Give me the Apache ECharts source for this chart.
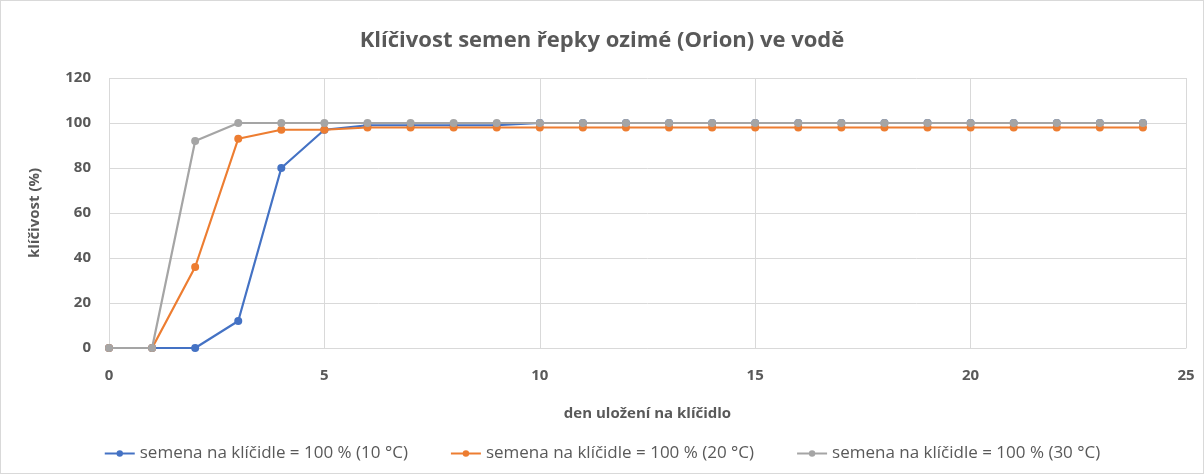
<!DOCTYPE html>
<html><head><meta charset="utf-8">
<script src="https://cdn.jsdelivr.net/npm/echarts@6/dist/echarts.min.js"></script>
<style>
html,body{margin:0;padding:0;background:#fff;}
#c{width:1204px;height:474px;box-sizing:border-box;border:1px solid #d9d9d9;}
</style></head><body>
<div id="c"></div>
<script>
const days = [0,1,2,3,4,5,6,7,8,9,10,11,12,13,14,15,16,17,18,19,20,21,22,23,24];
const s10 = [0,0,0,12,80,97,99,99,99,99,100,100,100,100,100,100,100,100,100,100,100,100,100,100,100];
const s20 = [0,0,36,93,97,97,98,98,98,98,98,98,98,98,98,98,98,98,98,98,98,98,98,98,98];
const s30 = [0,0,92,100,100,100,100,100,100,100,100,100,100,100,100,100,100,100,100,100,100,100,100,100,100];
const names = ['semena na klíčidle = 100 % (10 °C)','semena na klíčidle = 100 % (20 °C)','semena na klíčidle = 100 % (30 °C)'];
const colors = ['#4472C4','#ED7D31','#A5A5A5'];
const title = 'Klíčivost semen řepky ozimé (Orion) ve vodě';
const xName = 'den uložení na klíčidlo';
const yName = 'klíčivost (%)';

const chart = echarts.init(document.getElementById('c'), null, {renderer:'canvas'});
const font = '"Open Sans", Arial, sans-serif';
function mk(i, vals){
  return {name:names[i], type:'line', data:days.map((d,k)=>[d,vals[k]]),
    symbol:'circle', symbolSize:8, showSymbol:true,
    lineStyle:{width:2.2,color:colors[i]}, itemStyle:{color:colors[i]}, z:2+i};
}
chart.setOption({
  animation:false,
  color:colors,
  title:{text:title,left:'center',top:24,textStyle:{fontFamily:font,fontSize:22,fontWeight:'bold',color:'#595959'}},
  grid:{left:108,right:17,top:77,bottom:125,containLabel:false},
  xAxis:{type:'value',min:0,max:25,interval:5,
    name:xName,nameLocation:'middle',nameGap:58,
    nameTextStyle:{fontFamily:font,fontSize:15,fontWeight:'bold',color:'#595959'},
    axisLine:{show:true,lineStyle:{color:'#d9d9d9'}},axisTick:{show:false},
    axisLabel:{fontFamily:font,fontSize:15,fontWeight:'bold',color:'#595959',margin:20},
    splitLine:{show:true,lineStyle:{color:'#d9d9d9'}}},
  yAxis:{type:'value',min:0,max:120,interval:20,
    name:yName,nameLocation:'middle',nameGap:67,nameRotate:90,
    nameTextStyle:{fontFamily:font,fontSize:15,fontWeight:'bold',color:'#595959'},
    axisLine:{show:false},axisTick:{show:false},
    axisLabel:{fontFamily:font,fontSize:15,fontWeight:'bold',color:'#595959',margin:18},
    splitLine:{show:true,lineStyle:{color:'#d9d9d9'}}},
  legend:{bottom:6,left:'center',itemGap:42,itemWidth:30,itemHeight:8,
    textStyle:{fontFamily:font,fontSize:17,color:'#595959'},data:names},
  series:[mk(0,s10),mk(1,s20),mk(2,s30)]
});
</script></body></html>
